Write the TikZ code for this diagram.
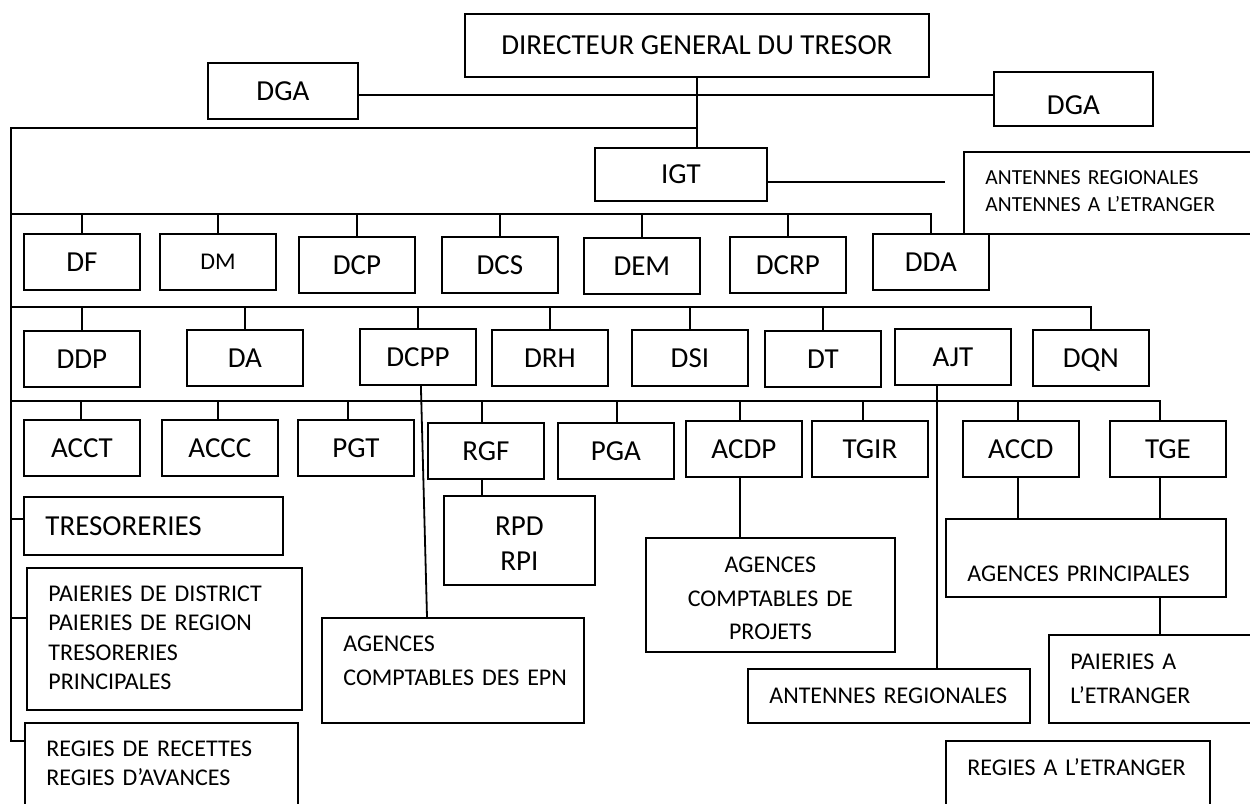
\documentclass[tikz,border=0pt]{standalone}
\usepackage{fontspec}
\setmainfont{Carlito}
\usepackage{tikz}

\newcommand\bigsize{\fontsize{29}{35}\selectfont}

\begin{document}
\begin{tikzpicture}[x=1pt, y=-1pt, line width=1.8pt, line cap=rect,
      box/.style={draw, inner sep=0pt, anchor=north west},
      dir/.style={box, minimum width=116pt, minimum height=56pt,
                  font=\bigsize, text height=18.3pt, text depth=0pt},
      lst/.style={box, inner xsep=21.5pt, align=left}
  ]
    \useasboundingbox (0,0) rectangle (1250,803);

    % direction generale
    \node[dir, minimum width=464pt, minimum height=63pt] (dg) at (464,13) {DIRECTEUR GENERAL DU TRESOR};
    \node[dir, minimum width=150pt] (dgaL) at (207,62) {DGA};
    \node[dir, minimum width=159pt, minimum height=54pt, text height=32pt] (dgaR) at (993,71) {DGA};
    \node[dir, minimum width=172pt, minimum height=53pt] (igt) at (594,147) {IGT};
    \node[lst, text width=249pt, text height=32.8pt, text depth=49.2pt,
          font=\fontsize{21.5}{26.5}\selectfont] (ant) at (963,151) {ANTENNES REGIONALES\\ANTENNES A L’ETRANGER};

    % directions
    \node[dir] (df)   at (23,233)  {DF};
    \node[dir, font=\fontsize{24}{29}\selectfont, text height=15.2pt] (dm) at (159,233) {DM};
    \node[dir] (dcp)  at (298,236) {DCP};
    \node[dir] (dcs)  at (441,236) {DCS};
    \node[dir] (dem)  at (583,237) {DEM};
    \node[dir] (dcrp) at (729,236) {DCRP};
    \node[dir] (dda)  at (872,233) {DDA};

    \node[dir] (ddp)  at (23,330)   {DDP};
    \node[dir] (da)   at (186,329)  {DA};
    \node[dir] (dcpp) at (359,328)  {DCPP};
    \node[dir] (drh)  at (491,329)  {DRH};
    \node[dir] (dsi)  at (631,329)  {DSI};
    \node[dir] (dt)   at (764,330)  {DT};
    \node[dir] (ajt)  at (894,328)  {AJT};
    \node[dir] (dqn)  at (1032,329) {DQN};

    % postes comptables
    \node[dir] (acct) at (23,419)   {ACCT};
    \node[dir] (accc) at (161,419)  {ACCC};
    \node[dir] (pgt)  at (297,419)  {PGT};
    \node[dir] (rgf)  at (427,422)  {RGF};
    \node[dir] (pga)  at (557,422)  {PGA};
    \node[dir] (acdp) at (685,420)  {ACDP};
    \node[dir] (tgir) at (811,420)  {TGIR};
    \node[dir] (accd) at (962,420)  {ACCD};
    \node[dir] (tge)  at (1109,420) {TGE};

    \node[lst, text width=216pt, text height=38.2pt, text depth=19.8pt, font=\bigsize] (tres) at (23,496) {TRESORERIES};
    \node[lst, text width=232pt, text height=33.6pt, text depth=108.4pt,
          font=\fontsize{24}{29.3}\selectfont] (pai) at (26,567) {PAIERIES DE DISTRICT\\PAIERIES DE REGION\\TRESORERIES\\PRINCIPALES};
    \node[lst, text width=230pt, text height=33.6pt, text depth=50.4pt,
          font=\fontsize{24}{29}\selectfont] (regrec) at (24,722) {REGIES DE RECETTES\\REGIES D’AVANCES};
    \node[box, text width=151pt, align=center, text height=39.2pt, text depth=49.8pt,
          font=\bigsize] (rpd) at (443,495) {RPD\\RPI};
    \node[lst, text width=219pt, text height=33.6pt, text depth=71.4pt,
          font=\fontsize{24}{34}\selectfont] (epn) at (321,617) {AGENCES\\COMPTABLES~DES~EPN};
    \node[box, text width=249pt, align=center, text height=34.6pt, text depth=79.4pt,
          font=\fontsize{24}{33.5}\selectfont] (proj) at (645,537) {AGENCES\\COMPTABLES DE\\PROJETS};
    \node[lst, text width=239pt, text height=34.6pt, text depth=19.4pt,
          font=\fontsize{24}{29}\selectfont] (antreg) at (747,668) {ANTENNES~REGIONALES};
    \node[lst, text width=237pt, text height=62.6pt, text depth=15.4pt,
          font=\fontsize{24}{29}\selectfont] (ap) at (945,518) {AGENCES PRINCIPALES};
    \node[lst, text width=164pt, text height=34.6pt, text depth=53.4pt,
          font=\fontsize{24}{34}\selectfont] (paietr) at (1048,634) {PAIERIES A\\L’ETRANGER};
    \node[lst, text width=221pt, text height=34.6pt, text depth=31.4pt,
          font=\fontsize{24}{29}\selectfont] (regetr) at (945,740) {REGIES~A~L’ETRANGER};

    % liaisons
    \coordinate (lt) at (11,128);
    \coordinate (lb) at (11,741);
    \coordinate (r1) at (11,214);
    \coordinate (r2) at (11,307);
    \coordinate (r3) at (11,401);

    \draw (dg.south) -- (dg.south |- igt.north);
    \draw ([yshift=-4pt]dgaL.east) -- ([yshift=-4pt]dgaL.east -| dgaR.west);
    \draw[shorten >=19pt] ([yshift=-7.5pt]igt.east) -- ([yshift=-7.5pt]igt.east -| ant.west);
    \draw (dg.south |- lt) -- (lt) -- (lb) -- (lb -| regrec.west);
    \draw ([yshift=7pt]tres.west -| lt) -- ([yshift=7pt]tres.west);
    \draw ([yshift=21pt]pai.west -| lt) -- ([yshift=21pt]pai.west);

    \draw (r1) -- (r1 -| dda.north) -- (dda.north);
    \foreach \n in {df,dm,dcp,dcs,dem,dcrp} \draw (\n.north) -- (\n.north |- r1);

    \draw (r2) -- (r2 -| dqn.north) -- (dqn.north);
    \foreach \n in {ddp,da,dcpp,drh,dsi,dt} \draw (\n.north) -- (\n.north |- r2);

    \draw (r3) -- ([xshift=-8pt]tge.north |- r3) -- ([xshift=-8pt]tge.north);
    \foreach \n/\dx in {acct/-1,accc/-2,pgt/-8,rgf/-4,pga/1,acdp/-4,tgir/-7,accd/-3}
      \draw ([xshift=\dx pt]\n.north) -- ([xshift=\dx pt]\n.north |- r3);

    \draw ([xshift=3pt]dcpp.south) -- ([xshift=106pt]epn.north west);
    \draw ([xshift=-16pt]ajt.south) -- ([xshift=-16pt]ajt.south |- antreg.north);
    \draw ([xshift=-4pt]rgf.south) -- ([xshift=-4pt]rgf.south |- rpd.north);
    \draw ([xshift=-4pt]acdp.south) -- ([xshift=-4pt]acdp.south |- proj.north);
    \draw ([xshift=-3pt]accd.south) -- ([xshift=-3pt]accd.south |- ap.north);
    \draw ([xshift=-8pt]tge.south) -- ([xshift=-8pt]tge.south |- ap.north);
    \draw ([xshift=-8pt]tge.south |- ap.south) -- ([xshift=-8pt]tge.south |- paietr.north);
\end{tikzpicture}
\end{document}
